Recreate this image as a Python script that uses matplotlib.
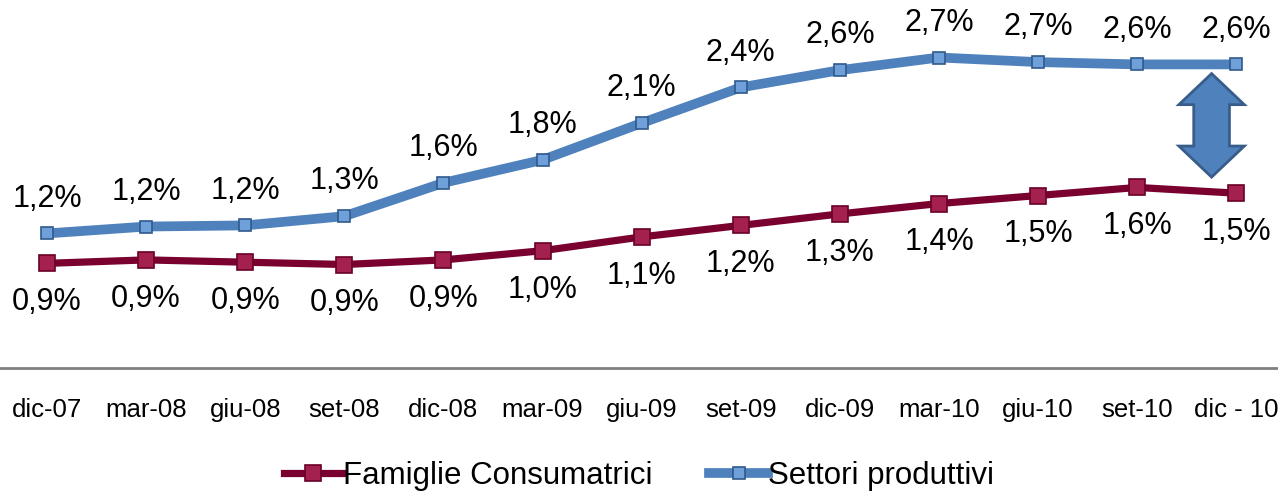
import numpy as np
import matplotlib.pyplot as plt
from matplotlib.patches import Polygon

plt.rcParams['font.family'] = ['Liberation Sans', 'DejaVu Sans']

periodi = ['dic-07', 'mar-08', 'giu-08', 'set-08', 'dic-08', 'mar-09', 'giu-09',
           'set-09', 'dic-09', 'mar-10', 'giu-10', 'set-10', 'dic - 10']
famiglie = [0.91, 0.94, 0.92, 0.90, 0.94, 1.02, 1.14, 1.24, 1.34, 1.43, 1.50, 1.57, 1.52]
settori = [1.17, 1.23, 1.24, 1.32, 1.61, 1.81, 2.13, 2.44, 2.59, 2.70, 2.66, 2.64, 2.64]

blu = '#4F81BD'
bordeaux = '#7A0030'

fig = plt.figure(figsize=(12.78, 4.93), dpi=100)
ax = fig.add_axes([0, 125 / 493, 1, 368 / 493])
x = np.arange(len(periodi))

ax.plot(x, famiglie, color=bordeaux, lw=5.2, marker='s', ms=11,
        mfc='#A3204F', mec='#6A0028', mew=1.2, label='Famiglie Consumatrici', zorder=3)
ax.plot(x, settori, color=blu, lw=7, marker='s', ms=9,
        mfc='#6FA0DA', mec='#2F5A8C', mew=1.2, label='Settori produttivi', zorder=3)

def fmt(v):
    return f'{v:.1f}%'.replace('.', ',')

for xi, v in zip(x, settori):
    ax.annotate(fmt(v), (xi, v), xytext=(0, 25), textcoords='offset points',
                ha='center', va='center', fontsize=22)
for xi, v in zip(x, famiglie):
    ax.annotate(fmt(v), (xi, v), xytext=(0, -28), textcoords='offset points',
                ha='center', va='center', fontsize=22)

# freccia doppia tra le due serie
cx, top, bot = 11.75, 2.56, 1.66
hw, sw, hh = 0.33, 0.18, 0.27
freccia = [(cx, top), (cx + hw, top - hh), (cx + sw, top - hh), (cx + sw, bot + hh),
           (cx + hw, bot + hh), (cx, bot), (cx - hw, bot + hh), (cx - sw, bot + hh),
           (cx - sw, top - hh), (cx - hw, top - hh)]
ax.add_patch(Polygon(freccia, closed=True, facecolor=blu, edgecolor='#385D8A', lw=2, zorder=4))

ax.set_xlim(-0.474, 12.42)
ax.set_ylim(0, 3.2)
ax.set_xticks(x)
ax.set_xticklabels(periodi, fontsize=18.5)
ax.tick_params(axis='x', length=0, pad=21.5)
ax.set_yticks([])
for s in ['top', 'left', 'right']:
    ax.spines[s].set_visible(False)
ax.spines['bottom'].set_color('#808080')
ax.spines['bottom'].set_linewidth(2)

fig.legend(loc='center', bbox_to_anchor=(0.5, 1 - 476 / 493), ncol=2, frameon=False,
           fontsize=22.5, handlelength=1.9, handletextpad=0.0, columnspacing=1.8)

fig.savefig('out.png', dpi=100)
